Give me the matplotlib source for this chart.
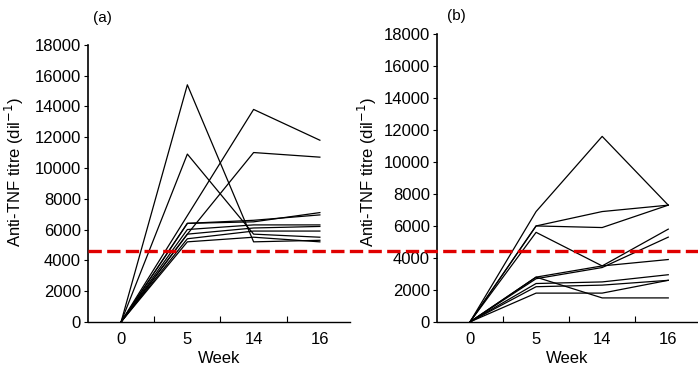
import numpy as np
import matplotlib.pyplot as plt
from matplotlib.lines import Line2D
from matplotlib.transforms import blended_transform_factory

plt.rcParams['font.family'] = ['Liberation Sans', 'DejaVu Sans']

# Week labels, drawn at equally spaced positions
weeks = ['0', '5', '14', '16']

# Anti-TNF titres per patient, panel (a)
titres_a = [
    [0, 15400, 5200, 5300],
    [0, 10900, 5700, 5500],
    [0, 6900, 13800, 11800],
    [0, 5700, 11000, 10700],
    [0, 6400, 6500, 7100],
    [0, 6400, 6600, 6950],
    [0, 6000, 6300, 6300],
    [0, 5700, 6100, 6200],
    [0, 5400, 5900, 5900],
    [0, 5200, 5500, 5200],
]

# Anti-TNF titres per patient, panel (b)
titres_b = [
    [0, 6900, 11600, 7300],
    [0, 6000, 6900, 7300],
    [0, 6000, 5900, 7300],
    [0, 5600, 3500, 3900],
    [0, 2800, 3500, 5800],
    [0, 2700, 3400, 5300],
    [0, 2800, 1500, 1500],
    [0, 2400, 2500, 2950],
    [0, 2200, 2300, 2600],
    [0, 1800, 1800, 2600],
]

threshold = 4600
yticks = np.arange(0, 18001, 2000)

fig = plt.figure(figsize=(6.98, 3.70), dpi=100)
ax_a = fig.add_axes([0.126, 0.130, 0.375, 0.749])
ax_b = fig.add_axes([0.626, 0.130, 0.374, 0.778])

x = np.arange(len(weeks))
panels = [(ax_a, titres_a, '(a)', (-0.235, 0.54), (0.02, 1.097)),
          (ax_b, titres_b, '(b)', (-0.222, 0.52), (0.04, 1.062))]
for ax, series, tag, lab_xy, tag_xy in panels:
    for s in series:
        ax.plot(x, s, color='black', lw=0.9)
    ax.set_xlim(-0.5, 3.45)
    ax.set_ylim(0, 18000)
    ax.set_xticks(x)
    ax.set_xticklabels(weeks, fontsize=12)
    ax.set_xticks([0.5, 1.5, 2.5], minor=True)
    ax.tick_params(axis='x', which='major', length=0, pad=7)
    ax.tick_params(axis='x', which='minor', direction='in', length=4, width=0.8)
    ax.set_yticks(yticks)
    ax.set_yticklabels([str(v) for v in yticks], fontsize=12)
    ax.tick_params(axis='y', direction='out', length=3, width=0.8, pad=2)
    for side in ('top', 'right'):
        ax.spines[side].set_visible(False)
    ax.spines['left'].set_linewidth(1.2)
    ax.spines['bottom'].set_linewidth(1.0)
    ax.set_xlabel('Week', fontsize=12, labelpad=3)
    ax.set_ylabel('Anti-TNF titre (dil$^{-1}$)', fontsize=12)
    ax.yaxis.set_label_coords(*lab_xy)
    ax.text(*tag_xy, tag, transform=ax.transAxes, fontsize=11,
            ha='left', va='center')

# Threshold line, running from panel (a) across panel (b)
trans = blended_transform_factory(fig.transFigure, ax_a.transData)
fig.add_artist(Line2D([0.126, 1.0], [threshold, threshold], transform=trans,
                      color='#e00000', lw=2.4, ls=(0, (4, 1.6)), zorder=10))

fig.savefig('out.png', dpi=100)
